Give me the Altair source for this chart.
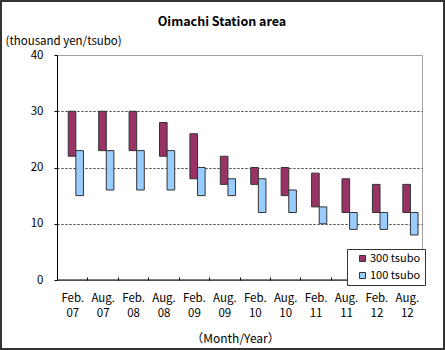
import altair as alt
import pandas as pd

chart_title = "Oimachi Station area"
categories = ["Feb. 07", "Aug. 07", "Feb. 08", "Aug. 08", "Feb. 09", "Aug. 09",
              "Feb. 10", "Aug. 10", "Feb. 11", "Aug. 11", "Feb. 12", "Aug. 12"]
series_names = ["300 tsubo", "100 tsubo"]
high_300 = [30, 30, 30, 28, 26, 22, 20, 20, 19, 18, 17, 17]
low_300 = [22, 23, 23, 22, 18, 17, 17, 15, 13, 12, 12, 12]
high_100 = [23, 23, 23, 23, 20, 18, 18, 16, 13, 12, 12, 12]
low_100 = [15, 16, 16, 16, 15, 15, 12, 12, 10, 9, 9, 8]
y_ticks = [0, 10, 20, 30, 40]
colors = ["#993366", "#99CCFF"]

rows = []
for i, c in enumerate(categories):
    rows.append({"period": c, "series": series_names[0], "high": high_300[i], "low": low_300[i]})
    rows.append({"period": c, "series": series_names[1], "high": high_100[i], "low": low_100[i]})
df = pd.DataFrame(rows)

FONT = "Noto Sans CJK JP"

x_scale = alt.Scale(domain=categories, paddingInner=0.5, paddingOuter=0.25, align=0.74)
y_scale = alt.Scale(domain=[0, 40])

bars = alt.Chart(df).mark_bar(stroke="#333333", strokeWidth=1).encode(
    x=alt.X("period:N", sort=categories, scale=x_scale,
            axis=alt.Axis(title="（Month/Year）", labelAngle=0,
                          labelExpr="split(datum.label, ' ')",
                          labelLineHeight=15, labelPadding=12, labelOffset=-15.2,
                          labelOverlap=False, labelFontSize=11.5, labelFont=FONT,
                          labelColor="#000000",
                          tickSize=3, tickOffset=11.6, tickColor="#000000",
                          domain=False, offset=-3, grid=False,
                          titleY=61, titleX=178, titleBaseline="middle", titleFontSize=12,
                          titleFont=FONT, titleFontWeight="normal", titleColor="#000000")),
    xOffset=alt.XOffset("series:N", sort=series_names),
    y=alt.Y("high:Q", scale=y_scale,
            axis=alt.Axis(values=y_ticks, title="(thousand yen/tsubo)", titleAngle=0,
                          titleX=-52, titleY=-14, titleAlign="left", titleBaseline="middle",
                          titleFontSize=11.5, titleFont=FONT, titleFontWeight="normal",
                          titleColor="#000000",
                          tickSize=3, tickColor="#000000", labelPadding=11,
                          labelFontSize=11.5, labelFont=FONT, labelColor="#000000",
                          domainColor="#000000",
                          grid=True, gridDash=[2, 2], gridColor="#333333",
                          gridOpacity=alt.condition("datum.value > 0 && datum.value < 40",
                                                    alt.value(1), alt.value(0)))),
    y2="low:Q",
    color=alt.Color("series:N", scale=alt.Scale(domain=series_names, range=colors),
                    legend=alt.Legend(title=None, orient="none", legendX=290, legendY=194,
                                      direction="vertical", symbolType="square",
                                      symbolSize=36, symbolStrokeColor="#333333",
                                      symbolStrokeWidth=1, labelFontSize=11, labelFont=FONT,
                                      labelColor="#000000", padding=4, rowPadding=5,
                                      strokeColor="#333333", fillColor="white",
                                      symbolOffset=6, labelOffset=2, cornerRadius=0)),
)

baseline = alt.Chart(pd.DataFrame({"k": [0]})).mark_rule(color="#000000", strokeWidth=1).encode(
    y=alt.datum(0, scale=y_scale)
)

frame = alt.Chart(pd.DataFrame({"k": [0]})).mark_rect(
    fillOpacity=0, stroke="#333333", strokeWidth=2
).encode(
    x=alt.value(-56), x2=alt.value(387), y=alt.value(-54), y2=alt.value(294)
)

title_text = alt.Chart(pd.DataFrame({"t": [chart_title]})).mark_text(
    font=FONT, fontSize=12.5, fontWeight="bold", color="#000000",
    align="center", baseline="middle"
).encode(text="t:N", x=alt.value(165), y=alt.value(-33))

chart = alt.layer(bars, baseline, frame, title_text).properties(
    width=365, height=225,
    autosize=alt.AutoSizeParams(type="none"),
    padding={"left": 57, "top": 55, "right": 23, "bottom": 70},
    background="white",
).configure_view(stroke="#a0a0a0", strokeWidth=1)

chart.save("out.html", embed_options={"renderer": "svg", "actions": False})
